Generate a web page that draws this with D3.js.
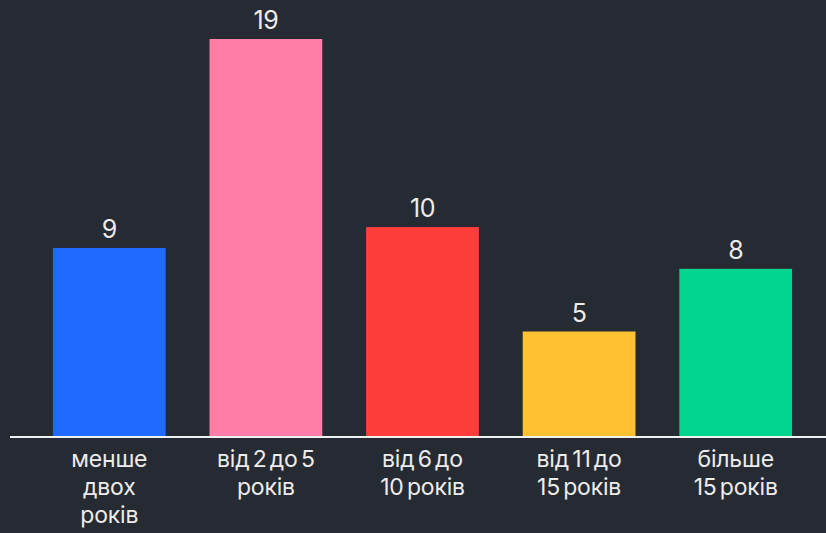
<!DOCTYPE html>
<meta charset="utf-8">
<style>
  body { margin: 0; background: #262a33; }
  text { font-family: Inter, "Noto Sans", sans-serif; fill: #ececec; }
</style>
<svg width="826" height="533"></svg>
<script src="https://d3js.org/d3.v7.min.js"></script>
<script>
// data
var categories = ['менше двох років', 'від 2 до 5 років', 'від 6 до 10 років', 'від 11 до 15 років', 'більше 15 років']
var labelLines = [
  ['менше', 'двох', 'років'],
  ['від 2 до 5', 'років'],
  ['від 6 до', '10 років'],
  ['від 11 до', '15 років'],
  ['більше', '15 років']
]
var values = [9, 19, 10, 5, 8]
var colors = ['#1f6bff', '#ff7ea8', '#ff3e3c', '#ffc233', '#00d68f']

var width = 826, height = 533
var svg = d3.select('svg')
svg.append('rect').attr('width', width).attr('height', height).attr('fill', '#262a33')

var baseY = 436
var x = d3.scaleBand()
  .domain(categories)
  .range([31, 814])
  .paddingInner(0.28)
  .paddingOuter(0.14)

var y = d3.scaleLinear()
  .domain([0, 19])
  .range([baseY, 39])

svg.append('g')
  .selectAll('rect')
  .data(values)
  .enter().append('rect')
    .attr('x', function (d, i) { return x(categories[i]) })
    .attr('y', function (d) { return y(d) })
    .attr('width', x.bandwidth())
    .attr('height', function (d) { return baseY - y(d) })
    .attr('fill', function (d, i) { return colors[i] })

// value labels
svg.append('g')
  .selectAll('text')
  .data(values)
  .enter().append('text')
    .attr('x', function (d, i) { return x(categories[i]) + x.bandwidth() / 2 })
    .attr('y', function (d) { return y(d) - 10 })
    .attr('text-anchor', 'middle')
    .attr('font-size', 25)
    .attr('letter-spacing', -0.5)
    .text(function (d) { return d })

// baseline
svg.append('line')
  .attr('x1', 10).attr('x2', width)
  .attr('y1', baseY + 1).attr('y2', baseY + 1)
  .attr('stroke', '#f0f0f0')
  .attr('stroke-width', 2)

// category labels
var lab = svg.append('g')
  .selectAll('text')
  .data(categories)
  .enter().append('text')
    .attr('text-anchor', 'middle')
    .attr('font-size', 23)
    .attr('letter-spacing', -0.2)
    .attr('word-spacing', -3)
    .attr('x', function (d) { return x(d) + x.bandwidth() / 2 })
    .attr('y', 467)

lab.selectAll('tspan')
  .data(function (d, i) { return labelLines[i] })
  .enter().append('tspan')
    .attr('x', function () { var c = this.parentNode.__data__; return x(c) + x.bandwidth() / 2 })
    .attr('dy', function (d, i) { return i === 0 ? 0 : 28 })
    .text(function (d) { return d })
</script>
